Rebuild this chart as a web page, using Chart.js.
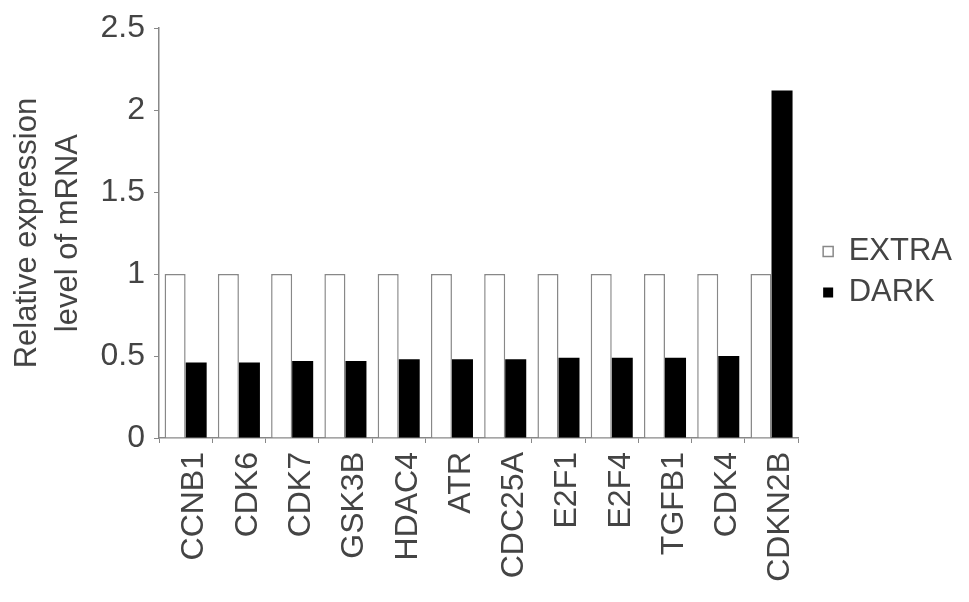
<!DOCTYPE html>
<html>
<head>
<meta charset="utf-8">
<script src="https://cdn.jsdelivr.net/npm/chart.js@4.4.1/dist/chart.umd.min.js"></script>
<style>
  body { margin: 0; background: #fff; }
  #wrap { width: 969px; height: 602px; }
</style>
</head>
<body>
<div id="wrap"><canvas id="myChart"></canvas></div>
<script>
var genes = ["CCNB1", "CDK6", "CDK7", "GSK3B", "HDAC4", "ATR", "CDC25A", "E2F1", "E2F4", "TGFB1", "CDK4", "CDKN2B"];
var extra = [1, 1, 1, 1, 1, 1, 1, 1, 1, 1, 1, 1];
var dark = [0.46, 0.46, 0.47, 0.47, 0.48, 0.48, 0.48, 0.49, 0.49, 0.49, 0.50, 2.12];
var yTicks = [0, 0.5, 1, 1.5, 2, 2.5];

var textColor = "#444";
var lineColor = "#888";
var font = { family: "'Liberation Sans', Arial, sans-serif", size: 32 };

// legend sits a bit right of the plot and above centre, like the original
var legendShift = {
  id: "legendShift",
  afterLayout: function (chart) {
    var l = chart.legend;
    l.left += 15; l.right += 15;
    l.top -= 40; l.bottom -= 40;
  }
};

new Chart(document.getElementById("myChart"), {
  type: "bar",
  data: {
    labels: genes,
    datasets: [
      {
        label: "EXTRA",
        data: extra,
        backgroundColor: "#fff",
        borderColor: lineColor,
        borderWidth: 1.5,
      },
      {
        label: "DARK",
        data: dark,
        backgroundColor: "#000",
        borderColor: "#000",
        borderWidth: 0,
      },
    ],
  },
  options: {
    responsive: true,
    maintainAspectRatio: false,
    animation: false,
    categoryPercentage: 0.79,
    barPercentage: 1.0,
    layout: { padding: { top: 22, right: 22, left: 0, bottom: 0 } },
    plugins: {
      tooltip: { enabled: false },
      legend: {
        position: "right",
        labels: {
          boxWidth: 10,
          boxHeight: 10,
          padding: 10,
          color: textColor,
          font: { family: font.family, size: 31 },
        },
      },
    },
    scales: {
      x: {
        afterFit: function (scale) { scale.height = 164; },
        grid: { drawOnChartArea: false, tickLength: 5, color: lineColor },
        border: { color: lineColor, width: 1.5 },
        ticks: {
          autoSkip: false,
          maxRotation: 90,
          minRotation: 90,
          labelOffset: 9,
          padding: 9,
          color: textColor,
          font: font,
        },
      },
      y: {
        min: 0,
        max: 2.5,
        afterFit: function (scale) { scale.width = 159; },
        afterBuildTicks: function (scale) {
          scale.ticks = yTicks.map(function (v) { return { value: v }; });
        },
        grid: { drawOnChartArea: false, tickLength: 5, color: lineColor },
        border: { color: lineColor, width: 1.5 },
        ticks: {
          padding: 9,
          color: textColor,
          font: font,
          callback: function (v) { return String(v); },
        },
        title: {
          display: true,
          text: ["Relative expression", "level of mRNA"],
          color: textColor,
          font: { family: font.family, size: 31, lineHeight: 1.32 },
          padding: { top: 7, bottom: 4 },
        },
      },
    },
  },
  plugins: [legendShift],
});
</script>
</body>
</html>
